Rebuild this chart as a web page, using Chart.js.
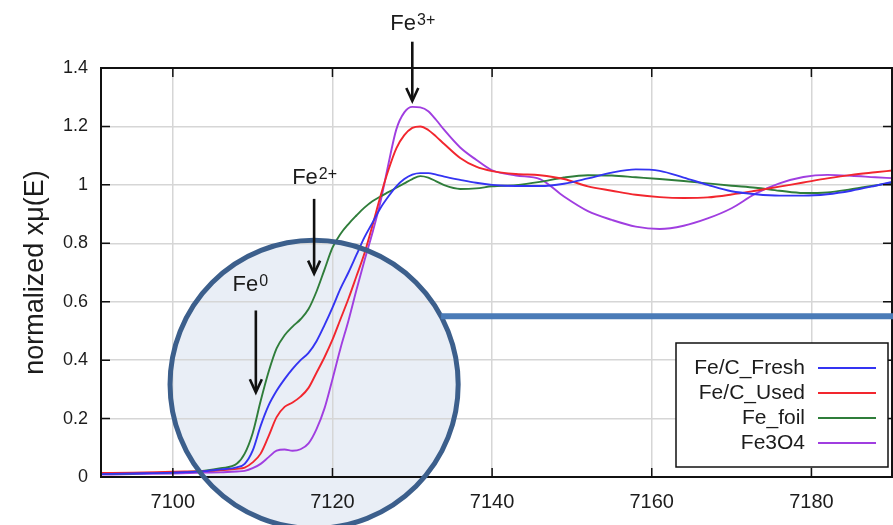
<!DOCTYPE html>
<html>
<head>
<meta charset="utf-8">
<script src="https://cdn.jsdelivr.net/npm/chart.js@4.4.0/dist/chart.umd.min.js"></script>
<style>
  html, body { margin: 0; padding: 0; background: #fff; }
  #wrap { width: 893px; height: 525px; }
</style>
</head>
<body>
<div id="wrap"><canvas id="xanes" width="893" height="525"></canvas></div>
<script>
// energy grid (eV) shared by all four spectra
const energies = [7091, 7095, 7100, 7104, 7106, 7108, 7109, 7110, 7111, 7112, 7113, 7114, 7115, 7116, 7117, 7118, 7119, 7120,
  7121, 7122, 7123, 7124, 7125, 7126, 7127, 7128, 7129, 7130, 7131, 7132, 7133, 7134, 7136, 7138, 7140, 7143, 7146, 7149,
  7152, 7155, 7158, 7161, 7164, 7167, 7170, 7173, 7176, 7179, 7182, 7185, 7188, 7190.1];

const freshMu = [0.010, 0.012, 0.015, 0.020, 0.026, 0.033, 0.045, 0.090, 0.175, 0.245, 0.295, 0.335, 0.370, 0.400, 0.425, 0.465, 0.520, 0.580,
  0.645, 0.700, 0.760, 0.820, 0.870, 0.920, 0.960, 0.995, 1.020, 1.035, 1.040, 1.040, 1.035, 1.028, 1.017, 1.007, 1.000, 0.996, 0.996, 1.004,
  1.022, 1.042, 1.053, 1.048, 1.025, 1.000, 0.978, 0.968, 0.963, 0.963, 0.968, 0.980, 0.997, 1.010];

const usedMu = [0.014, 0.015, 0.018, 0.020, 0.023, 0.028, 0.032, 0.050, 0.080, 0.140, 0.205, 0.240, 0.255, 0.275, 0.305, 0.357, 0.410, 0.470,
  0.540, 0.610, 0.687, 0.765, 0.860, 0.960, 1.050, 1.125, 1.170, 1.195, 1.200, 1.188, 1.165, 1.140, 1.092, 1.062, 1.047, 1.037, 1.033, 1.020,
  0.995, 0.980, 0.966, 0.958, 0.955, 0.957, 0.967, 0.980, 0.994, 1.008, 1.022, 1.034, 1.043, 1.049];

const foilMu = [0.010, 0.012, 0.016, 0.022, 0.030, 0.045, 0.080, 0.150, 0.260, 0.360, 0.440, 0.485, 0.515, 0.540, 0.575, 0.635, 0.710, 0.785,
  0.832, 0.866, 0.895, 0.922, 0.944, 0.960, 0.975, 0.990, 1.005, 1.020, 1.030, 1.025, 1.012, 0.999, 0.986, 0.988, 0.995, 0.999, 1.010, 1.025,
  1.033, 1.032, 1.026, 1.020, 1.013, 1.005, 0.997, 0.990, 0.980, 0.972, 0.974, 0.985, 0.998, 1.007];

const magnetiteMu = [0.008, 0.010, 0.012, 0.015, 0.016, 0.019, 0.021, 0.030, 0.045, 0.068, 0.090, 0.094, 0.090, 0.095, 0.115, 0.164, 0.235, 0.335,
  0.440, 0.535, 0.640, 0.740, 0.835, 0.940, 1.070, 1.190, 1.248, 1.267, 1.265, 1.252, 1.222, 1.188, 1.128, 1.086, 1.050, 1.032, 1.020, 0.960,
  0.910, 0.880, 0.857, 0.849, 0.860, 0.885, 0.920, 0.970, 1.005, 1.027, 1.034, 1.031, 1.026, 1.023];

const seriesNames = ["Fe/C_Fresh", "Fe/C_Used", "Fe_foil", "Fe3O4"];
const seriesColors = ["#3434f2", "#f2262e", "#2f7d3a", "#a03ee0"];

const xTicks = [7100, 7120, 7140, 7160, 7180];
const yTicks = [0, 0.2, 0.4, 0.6, 0.8, 1, 1.2, 1.4];
const yTickLabels = ["0", "0.2", "0.4", "0.6", "0.8", "1", "1.2", "1.4"];

const FONT = "'Liberation Sans', Arial, sans-serif";
const INK = "#1c1c1c";

// magnifier circle, callout line and oxidation-state arrows (data coordinates)
const lens = { e: 7117.7, mu: 0.317, rE: 18.05, lineMu: 0.55 };
const markers = [
  { base: "Fe", sup: "3+", e: 7130, top: 1.49, tip: 1.287, textMu: 1.529, dx: 0 },
  { base: "Fe", sup: "2+", e: 7117.7, top: 0.952, tip: 0.696, textMu: 1.003, dx: 0 },
  { base: "Fe", sup: "0", e: 7110.4, top: 0.57, tip: 0.29, textMu: 0.638, dx: -6 }
];

const ctx = document.getElementById("xanes").getContext("2d");

function toPoints(values) {
  return energies.map((e, i) => ({ x: e, y: values[i] }));
}

function lensGeometry(chart) {
  const x = chart.scales.x, y = chart.scales.y;
  const cx = x.getPixelForValue(lens.e), cy = y.getPixelForValue(lens.mu);
  const r = x.getPixelForValue(lens.e + lens.rE) - cx;
  return { cx, cy, r };
}

function drawArrow(c, x, y0, y1) {
  c.save();
  c.strokeStyle = "#111";
  c.lineWidth = 2.6;
  c.beginPath();
  c.moveTo(x, y0);
  c.lineTo(x, y1 - 2);
  c.stroke();
  c.lineJoin = "miter";
  c.beginPath();
  c.moveTo(x - 6, y1 - 13);
  c.lineTo(x, y1);
  c.lineTo(x + 6, y1 - 13);
  c.stroke();
  c.restore();
}

const overlay = {
  id: "overlay",
  beforeDraw(chart) {
    // scales are already laid out here, so the lens fill can go under the grid and labels
    const c = chart.ctx;
    const { cx, cy, r } = lensGeometry(chart);
    c.save();
    c.fillStyle = "#e9eef6";
    c.beginPath();
    c.arc(cx, cy, r, 0, Math.PI * 2);
    c.fill();
    c.restore();
  },
  afterDatasetsDraw(chart) {
    const c = chart.ctx, x = chart.scales.x, y = chart.scales.y;
    const a = chart.chartArea;
    c.save();
    // frame and inward ticks
    c.strokeStyle = "#111";
    c.lineWidth = 2;
    c.strokeRect(a.left, a.top, a.right - a.left, a.bottom - a.top);
    c.lineWidth = 1.5;
    c.beginPath();
    xTicks.forEach(v => {
      const px = x.getPixelForValue(v);
      c.moveTo(px, a.bottom); c.lineTo(px, a.bottom - 9);
      c.moveTo(px, a.top); c.lineTo(px, a.top + 9);
    });
    yTicks.forEach(v => {
      const py = y.getPixelForValue(v);
      c.moveTo(a.left, py); c.lineTo(a.left + 9, py);
      c.moveTo(a.right, py); c.lineTo(a.right - 9, py);
    });
    c.stroke();

    // lens border + callout line
    const { cx, cy, r } = lensGeometry(chart);
    const ly = y.getPixelForValue(lens.lineMu);
    c.strokeStyle = "#3c5f8c";
    c.lineWidth = 5;
    c.beginPath();
    c.arc(cx, cy, r, 0, Math.PI * 2);
    c.stroke();
    const lx = cx + Math.sqrt(r * r - (ly - cy) * (ly - cy));
    c.strokeStyle = "#4a7bb7";
    c.lineWidth = 6;
    c.beginPath();
    c.moveTo(lx, ly);
    c.lineTo(chart.width, ly);
    c.stroke();
    c.restore();
  },
  afterDraw(chart) {
    const c = chart.ctx, x = chart.scales.x, y = chart.scales.y;
    c.save();
    // oxidation state labels and arrows
    markers.forEach(m => {
      const px = x.getPixelForValue(m.e);
      drawArrow(c, px, y.getPixelForValue(m.top), y.getPixelForValue(m.tip));
      c.fillStyle = INK;
      c.textBaseline = "alphabetic";
      c.font = "22px " + FONT;
      const wb = c.measureText(m.base).width;
      c.font = "16px " + FONT;
      const ws = c.measureText(m.sup).width;
      const start = px + m.dx - (wb + ws) / 2;
      const base = y.getPixelForValue(m.textMu);
      c.font = "22px " + FONT;
      c.fillText(m.base, start, base);
      c.font = "16px " + FONT;
      c.fillText(m.sup, start + wb + 1, base - 5);
    });

    // legend box
    const box = { left: 676, top: 343, right: 888, bottom: 467 };
    c.fillStyle = "#fff";
    c.fillRect(box.left, box.top, box.right - box.left, box.bottom - box.top);
    c.strokeStyle = "#111";
    c.lineWidth = 1.5;
    c.strokeRect(box.left, box.top, box.right - box.left, box.bottom - box.top);
    c.font = "21px " + FONT;
    c.textAlign = "right";
    c.textBaseline = "middle";
    chart.data.datasets.forEach((ds, i) => {
      const rowY = box.top + 25 + i * 25;
      c.fillStyle = INK;
      c.fillText(ds.label, 805, rowY);
      c.strokeStyle = ds.borderColor;
      c.lineWidth = 1.8;
      c.beginPath();
      c.moveTo(818, rowY);
      c.lineTo(876, rowY);
      c.stroke();
    });
    c.restore();
  }
};

const allSeries = [freshMu, usedMu, foilMu, magnetiteMu];

new Chart(ctx, {
  type: "line",
  data: {
    datasets: allSeries.map((vals, i) => ({
      label: seriesNames[i],
      data: toPoints(vals),
      borderColor: seriesColors[i],
      backgroundColor: seriesColors[i],
      borderWidth: 1.9,
      pointRadius: 0,
      cubicInterpolationMode: "monotone",
      fill: false
    }))
  },
  options: {
    responsive: false,
    animation: false,
    layout: { padding: { top: 68, right: 1, left: 0, bottom: 0 } },
    plugins: {
      legend: { display: false },
      tooltip: { enabled: false }
    },
    scales: {
      x: {
        type: "linear",
        min: 7091,
        max: 7190.1,
        afterFit: s => { s.height = 48; },
        afterBuildTicks: s => { s.ticks = xTicks.map(v => ({ value: v })); },
        grid: { color: "#d6d6d6", lineWidth: 1.5, drawTicks: false },
        border: { display: false },
        ticks: { color: INK, font: { family: FONT, size: 20 }, padding: 13, maxRotation: 0, callback: v => String(v) }
      },
      y: {
        min: 0,
        max: 1.4,
        afterFit: s => { s.width = 101; },
        afterBuildTicks: s => { s.ticks = yTicks.map(v => ({ value: v })); },
        grid: { color: "#d6d6d6", lineWidth: 1.5, drawTicks: false },
        border: { display: false },
        title: {
          display: true,
          text: "normalized xμ(E)",
          color: INK,
          font: { family: FONT, size: 27 },
          padding: { top: 19, bottom: 0 }
        },
        ticks: {
          color: INK,
          font: { family: FONT, size: 18 },
          padding: 13,
          callback: (v, i) => yTickLabels[i]
        }
      }
    }
  },
  plugins: [overlay]
});
</script>
</body>
</html>
